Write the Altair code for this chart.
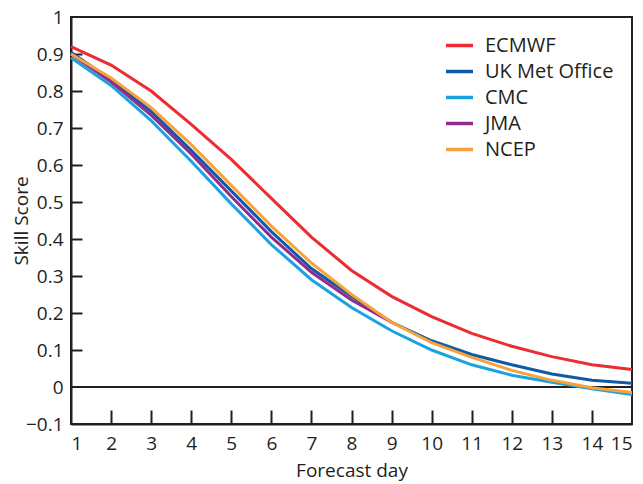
import altair as alt
import pandas as pd

days = list(range(1, 16))
ecmwf = [0.92, 0.87, 0.80, 0.71, 0.615, 0.51, 0.405, 0.315, 0.245, 0.19, 0.145, 0.11, 0.082, 0.06, 0.047]
ukmo = [0.905, 0.83, 0.745, 0.64, 0.53, 0.42, 0.32, 0.245, 0.175, 0.125, 0.088, 0.06, 0.035, 0.018, 0.01]
cmc = [0.89, 0.815, 0.72, 0.61, 0.495, 0.385, 0.29, 0.215, 0.152, 0.1, 0.06, 0.032, 0.013, -0.005, -0.02]
jma = [0.90, 0.825, 0.735, 0.63, 0.515, 0.405, 0.31, 0.235, 0.175]
ncep = [0.90, 0.835, 0.755, 0.655, 0.545, 0.435, 0.335, 0.25, 0.175, 0.12, 0.08, 0.045, 0.018, -0.002, -0.015]

series_names = ["ECMWF", "UK Met Office", "CMC", "JMA", "NCEP"]
series_values = [ecmwf, ukmo, cmc, jma, ncep]
series_colors = ["#ED2B33", "#0F5AA5", "#1AA3E0", "#8E2C90", "#F7A23B"]
draw_order = {"CMC": 0, "NCEP": 1, "JMA": 2, "UK Met Office": 3, "ECMWF": 4}

y_ticks = [-0.1, 0, 0.1, 0.2, 0.3, 0.4, 0.5, 0.6, 0.7, 0.8, 0.9, 1]
x_ticks = list(range(1, 16))
inner_x_ticks = list(range(2, 15))
inner_y_ticks = [0.1, 0.2, 0.3, 0.4, 0.5, 0.6, 0.7, 0.8, 0.9]
zero_line = [0]

rows = []
for name, vals in zip(series_names, series_values):
    for d, v in zip(days, vals):
        rows.append({"day": d, "score": v, "model": name, "z": draw_order[name]})
df = pd.DataFrame(rows)

FONT = "Open Sans"
INK = "#231f20"

xscale = alt.Scale(domain=[1, 15], nice=False, zero=False)
yscale = alt.Scale(domain=[-0.1, 1], nice=False, zero=False)

zero = alt.Chart(pd.DataFrame({"score": zero_line})).mark_rule(color=INK, strokeWidth=2).encode(
    y=alt.Y("score:Q", scale=yscale, axis=None)
)

lines = alt.Chart(df).mark_line(strokeWidth=3).encode(
    x=alt.X("day:Q", scale=xscale,
            axis=alt.Axis(values=x_ticks, tickSize=0, labelPadding=10, title="Forecast day",
                          titleFontWeight="normal", titleY=52, titleBaseline="alphabetic",
                          format="d", grid=False)),
    y=alt.Y("score:Q", scale=yscale,
            axis=alt.Axis(values=y_ticks, tickSize=0, labelPadding=8, title="Skill Score",
                          titleFontWeight="normal", format="~g", grid=False,
                          titleX=-50, titleY=203.5, titleAngle=270, titleAlign="center",
                          titleBaseline="middle")),
    color=alt.Color("model:N",
                    scale=alt.Scale(domain=series_names, range=series_colors),
                    legend=alt.Legend(title=None, orient="none", legendX=373, legendY=13,
                                      symbolType="stroke", symbolSize=729, symbolStrokeWidth=3.5,
                                      labelFontSize=20, labelFont=FONT, labelColor=INK,
                                      rowPadding=-4.5, labelOffset=10)),
    order=alt.Order("z:Q"),
)

xt = pd.DataFrame({"day": inner_x_ticks})
tick_x = alt.Chart(xt).mark_point(opacity=0).encode(
    x=alt.X("day:Q", scale=xscale,
            axis=alt.Axis(values=inner_x_ticks, orient="bottom", offset=-14, tickSize=14,
                          labels=False, domain=False, title=None, grid=False,
                          tickColor=INK, tickWidth=2)),
)
yt = pd.DataFrame({"score": inner_y_ticks})
tick_y = alt.Chart(yt).mark_point(opacity=0).encode(
    y=alt.Y("score:Q", scale=yscale,
            axis=alt.Axis(values=inner_y_ticks, orient="left", offset=-11, tickSize=11,
                          labels=False, domain=False, title=None, grid=False,
                          tickColor=INK, tickWidth=2)),
)

chart = alt.layer(zero, lines, tick_x, tick_y).resolve_axis(
    x="independent", y="independent"
).properties(
    width=561, height=407,
    autosize=alt.AutoSizeParams(type="none"),
    padding={"left": 63, "top": 9, "right": 3, "bottom": 59},
).configure_view(
    stroke=INK, strokeWidth=2
).configure_axis(
    labelFont=FONT, titleFont=FONT, labelFontSize=19, titleFontSize=19,
    labelColor=INK, titleColor=INK, domainColor=INK, domainWidth=2,
)

chart.save("out.html", embed_options={"renderer": "svg", "actions": False})
